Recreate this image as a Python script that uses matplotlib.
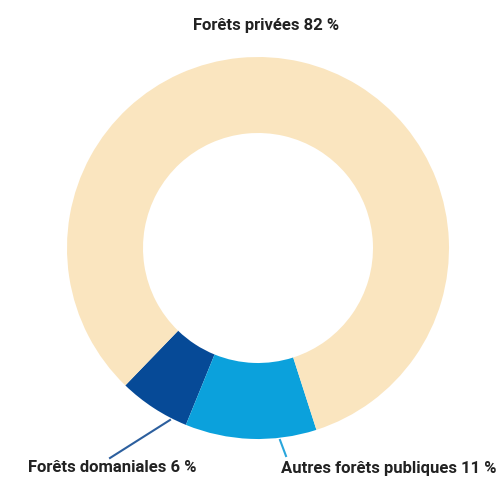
import matplotlib.pyplot as plt

labels = ["Forêts domaniales 6 %", "Autres forêts publiques 11 %", "Forêts privées 82 %"]
values = [6, 11, 82]
colors = ["#064a97", "#0ba1dc", "#fae5bf"]

W, H = 499, 479
fig = plt.figure(figsize=(W / 100, H / 100), dpi=100)
ax = fig.add_axes([0, 0, 1, 1])

# donut in pixel coordinates (y measured from the bottom)
cx, cy, r = 258, H - 248, 191
ax.pie(values, colors=colors, startangle=-134, counterclock=True,
       radius=r, center=(cx, cy), frame=True,
       wedgeprops=dict(width=r - 115, linewidth=0))
ax.set_xlim(0, W)
ax.set_ylim(0, H)
ax.set_aspect("equal")
ax.axis("off")

font = dict(family="Roboto", fontweight="bold", fontsize=12, color="#222222")
ax.text(266, H - 25, labels[2], ha="center", va="center", **font)
ax.text(28, H - 468, labels[0], ha="left", va="center", **font)
ax.text(497, H - 468, labels[1], ha="right", va="center", **font)

# leader lines
ax.plot([170, 110], [H - 420, H - 458], color="#2c5f9e", lw=1.5)
ax.plot([280, 286], [H - 440, H - 456], color="#2aa6dc", lw=1.5)

fig.savefig("out.png", dpi=100)
